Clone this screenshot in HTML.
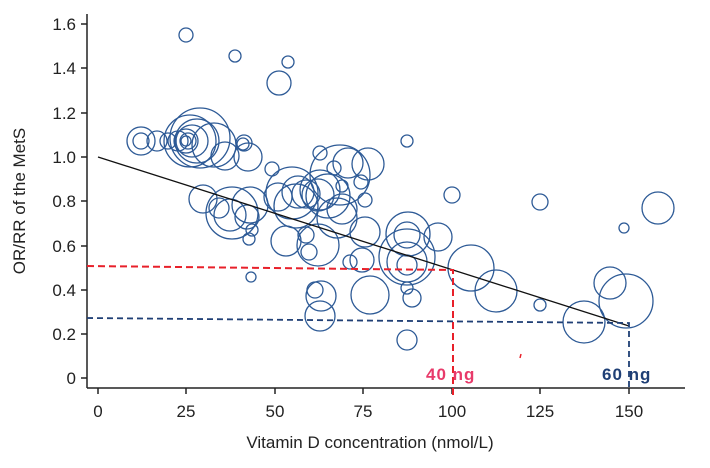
<!DOCTYPE html>
<html><head><style>body{margin:0;background:#fff}svg{display:block}text{font-family:"Liberation Sans",sans-serif}</style></head><body>
<svg width="710" height="468" viewBox="0 0 710 468">
<g stroke="#222" stroke-width="1.5" fill="none">
<line x1="87" y1="14" x2="87" y2="388"/>
<line x1="87" y1="388" x2="685" y2="388"/>
<line x1="81" y1="378" x2="87" y2="378"/><line x1="81" y1="334" x2="87" y2="334"/><line x1="81" y1="290" x2="87" y2="290"/><line x1="81" y1="246" x2="87" y2="246"/><line x1="81" y1="201" x2="87" y2="201"/><line x1="81" y1="157" x2="87" y2="157"/><line x1="81" y1="113" x2="87" y2="113"/><line x1="81" y1="68" x2="87" y2="68"/><line x1="81" y1="24" x2="87" y2="24"/>
<line x1="98" y1="388" x2="98" y2="394"/><line x1="186" y1="388" x2="186" y2="394"/><line x1="275" y1="388" x2="275" y2="394"/><line x1="363" y1="388" x2="363" y2="394"/><line x1="452" y1="388" x2="452" y2="394"/><line x1="540" y1="388" x2="540" y2="394"/><line x1="629" y1="388" x2="629" y2="394"/>
</g>
<g font-size="17" fill="#222" text-anchor="end">
<text x="76" y="384">0</text><text x="76" y="340">0.2</text><text x="76" y="296">0.4</text><text x="76" y="252">0.6</text><text x="76" y="207">0.8</text><text x="76" y="163">1.0</text><text x="76" y="119">1.2</text><text x="76" y="74">1.4</text><text x="76" y="30">1.6</text>
</g>
<g font-size="17" fill="#222" text-anchor="middle">
<text x="98" y="417">0</text><text x="186" y="417">25</text><text x="275" y="417">50</text><text x="363" y="417">75</text><text x="452" y="417">100</text><text x="540" y="417">125</text><text x="629" y="417">150</text>
<text x="370" y="448">Vitamin D concentration (nmol/L)</text>
<text transform="translate(25,201) rotate(-90)">OR/RR of the MetS</text>
</g>
<g fill="none" stroke="#2d5a96" stroke-width="1.3">
<circle cx="141" cy="141" r="14"/><circle cx="141" cy="141" r="8"/><circle cx="157" cy="141" r="10"/><circle cx="168" cy="141" r="8"/><circle cx="178" cy="141" r="10"/><circle cx="186" cy="141" r="12"/><circle cx="192" cy="141" r="16"/><circle cx="197" cy="141" r="22"/><circle cx="190" cy="141" r="26"/><circle cx="200" cy="138" r="30"/><circle cx="186" cy="141" r="5"/><circle cx="188" cy="141" r="8"/><circle cx="214" cy="145" r="22"/><circle cx="225" cy="156" r="14"/><circle cx="243" cy="144" r="6"/><circle cx="244" cy="143" r="8"/><circle cx="248" cy="157" r="14"/>
<circle cx="186" cy="35" r="7"/><circle cx="235" cy="56" r="6"/><circle cx="288" cy="62" r="6"/><circle cx="279" cy="83" r="12"/>
<circle cx="203" cy="199" r="14"/><circle cx="219" cy="208" r="10"/><circle cx="230" cy="215" r="16"/><circle cx="232" cy="213" r="26"/><circle cx="250" cy="205" r="18"/><circle cx="247" cy="217" r="12"/><circle cx="252" cy="230" r="6"/><circle cx="249" cy="239" r="6"/><circle cx="272" cy="169" r="7"/><circle cx="278" cy="197" r="14"/><circle cx="292" cy="193" r="26"/><circle cx="298" cy="192" r="16"/><circle cx="306" cy="194" r="14"/><circle cx="296" cy="206" r="22"/><circle cx="318" cy="195" r="16"/><circle cx="320" cy="153" r="7"/><circle cx="320" cy="190" r="20"/><circle cx="328" cy="196" r="22"/><circle cx="334" cy="168" r="7"/><circle cx="340" cy="175" r="30"/><circle cx="348" cy="163" r="15"/><circle cx="342" cy="209" r="15"/><circle cx="337" cy="218" r="20"/><circle cx="306" cy="235" r="8"/><circle cx="309" cy="252" r="8"/><circle cx="286" cy="241" r="15"/><circle cx="318" cy="245" r="21"/><circle cx="315" cy="290" r="8"/><circle cx="321" cy="296" r="15"/><circle cx="320" cy="316" r="15"/><circle cx="342" cy="186" r="6"/><circle cx="368" cy="164" r="16"/><circle cx="361" cy="182" r="7"/><circle cx="365" cy="200" r="7"/><circle cx="365" cy="232" r="15"/><circle cx="350" cy="262" r="7"/><circle cx="362" cy="260" r="12"/><circle cx="370" cy="295" r="19"/><circle cx="407" cy="141" r="6"/><circle cx="408" cy="234" r="22"/><circle cx="407" cy="235" r="13"/><circle cx="407" cy="262" r="20"/><circle cx="407" cy="257" r="28"/><circle cx="407" cy="265" r="10"/><circle cx="407" cy="288" r="6"/><circle cx="412" cy="298" r="9"/><circle cx="407" cy="340" r="10"/><circle cx="438" cy="237" r="14"/><circle cx="452" cy="195" r="8"/><circle cx="471" cy="268" r="23"/><circle cx="496" cy="291" r="21"/><circle cx="540" cy="202" r="8"/><circle cx="540" cy="305" r="6"/><circle cx="610" cy="283" r="16"/><circle cx="626" cy="301" r="27"/><circle cx="584" cy="322" r="21"/><circle cx="624" cy="228" r="5"/><circle cx="658" cy="208" r="16"/><circle cx="251" cy="277" r="5"/>
</g>
<line x1="98" y1="157" x2="629" y2="326" stroke="#111" stroke-width="1.3"/>
<polyline points="87,266 453,270 453,398" fill="none" stroke="#e8202a" stroke-width="2" stroke-dasharray="7,4"/>
<polyline points="87,318 629,323 629,388" fill="none" stroke="#1f3f75" stroke-width="1.8" stroke-dasharray="6,4"/>
<text x="426" y="380" font-size="17" font-weight="bold" fill="#e83a6a" letter-spacing="1">40 ng</text>
<text x="602" y="380" font-size="17" font-weight="bold" fill="#1f3f75" letter-spacing="1">60 ng</text>
<line x1="521" y1="354" x2="520" y2="358" stroke="#e8202a" stroke-width="1.5"/>
</svg>
</body></html>
